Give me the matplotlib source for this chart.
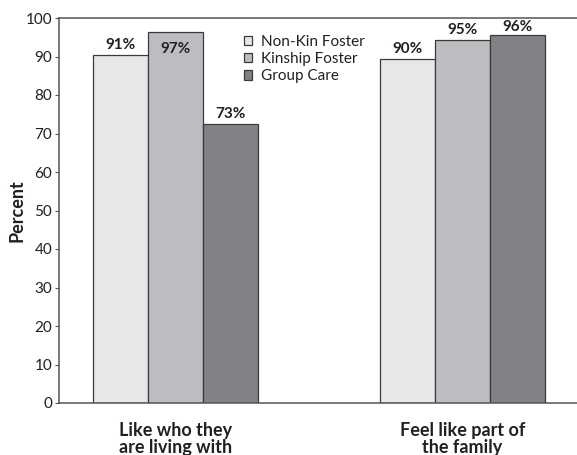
import matplotlib
matplotlib.use("Agg")
import matplotlib.pyplot as plt
import numpy as np

categories = ["Like who they\nare living with", "Feel like part of\nthe family"]
series_names = ["Non-Kin Foster", "Kinship Foster", "Group Care"]
values = {
    "Non-Kin Foster": [90.4, 89.4],
    "Kinship Foster": [96.4, 94.3],
    "Group Care": [72.5, 95.6],
}
labels = {
    "Non-Kin Foster": ["91%", "90%"],
    "Kinship Foster": ["97%", "95%"],
    "Group Care": ["73%", "96%"],
}
colors = ["#e6e7e8", "#bcbdc0", "#808285"]
yticks = [0, 10, 20, 30, 40, 50, 60, 70, 80, 90, 100]

plt.rcParams['font.family'] = ['Lato', 'DejaVu Sans']

fig = plt.figure(figsize=(5.77, 4.55), dpi=100)
ax = fig.add_axes([59/577, 52/455, 1 - 59/577, (403-18)/455])

w = 1/5.218
x = np.arange(len(categories))
for i, name in enumerate(series_names):
    pos = x + (i - 1) * w
    bars = ax.bar(pos, values[name], width=w, color=colors[i], edgecolor="#3a3a3a",
                  linewidth=0.9, label=name, zorder=2)
    for b, lab in zip(bars, labels[name]):
        h = b.get_height()
        cx = b.get_x() + b.get_width()/2
        if h > 96:
            ax.text(cx, h - 2.6, lab, ha="center", va="top",
                    fontsize=11, fontweight="bold", color="#231f20")
        else:
            ax.text(cx, min(h + 0.8, 95.8), lab, ha="center", va="bottom",
                    fontsize=11, fontweight="bold", color="#231f20")

ax.set_xlim(-0.406, 1.399)
ax.set_ylim(0, 100)
ax.set_yticks(yticks)
ax.set_yticklabels([str(t) for t in yticks], fontsize=11, color="#231f20")
ax.set_xticks(x)
ax.set_xticklabels(categories, fontsize=13, fontweight="bold", color="#231f20",
                   linespacing=0.98)
ax.tick_params(axis="x", length=0, pad=14)
ax.tick_params(axis="y", length=3, width=0.8, color="#555555", pad=2)
ax.set_ylabel("Percent", fontsize=13, fontweight="bold", color="#231f20", labelpad=0)

for s in ["left", "top", "bottom"]:
    ax.spines[s].set_color("#555555")
    ax.spines[s].set_linewidth(1.1)
ax.spines["right"].set_visible(False)

leg = ax.legend(loc="upper left", bbox_to_anchor=(233/518 - 59/518, 1 - 6/385),
                frameon=False, fontsize=11, handlelength=0.55, handleheight=0.55,
                handletextpad=0.6, labelspacing=0.22, borderpad=0.2)
for t in leg.get_texts():
    t.set_color("#231f20")

fig.savefig("out.png", dpi=100)
